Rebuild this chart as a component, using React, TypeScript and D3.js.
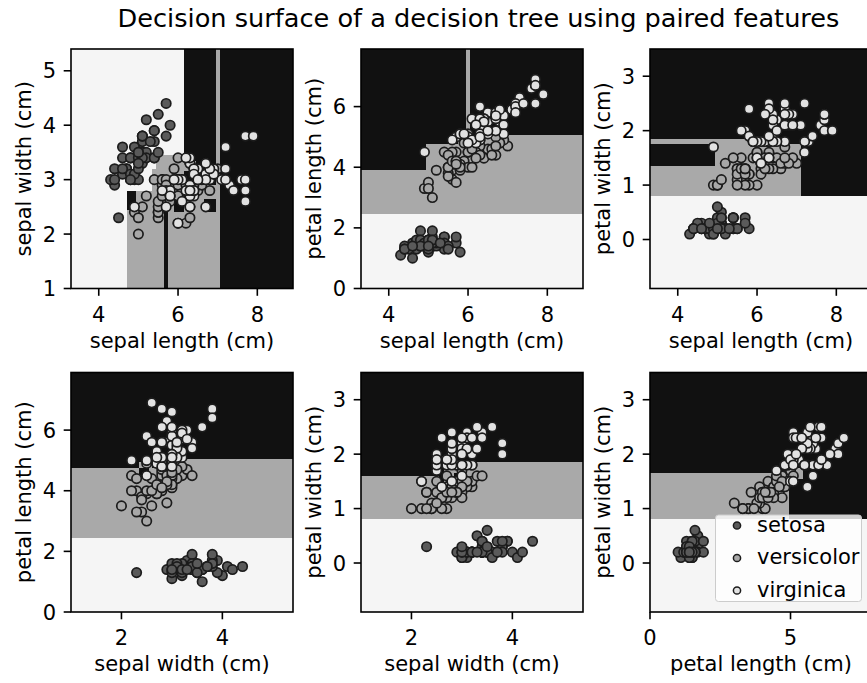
import React from "react";
import * as d3 from "d3";

// Iris dataset (150 samples)
const sepalLength = [
  5.1,4.9,4.7,4.6,5.0,5.4,4.6,5.0,4.4,4.9,5.4,4.8,4.8,4.3,5.8,5.7,5.4,5.1,5.7,5.1,5.4,5.1,4.6,5.1,4.8,
  5.0,5.0,5.2,5.2,4.7,4.8,5.4,5.2,5.5,4.9,5.0,5.5,4.9,4.4,5.1,5.0,4.5,4.4,5.0,5.1,4.8,5.1,4.6,5.3,5.0,
  7.0,6.4,6.9,5.5,6.5,5.7,6.3,4.9,6.6,5.2,5.0,5.9,6.0,6.1,5.6,6.7,5.6,5.8,6.2,5.6,5.9,6.1,6.3,6.1,6.4,
  6.6,6.8,6.7,6.0,5.7,5.5,5.5,5.8,6.0,5.4,6.0,6.7,6.3,5.6,5.5,5.5,6.1,5.8,5.0,5.6,5.7,5.7,6.2,5.1,5.7,
  6.3,5.8,7.1,6.3,6.5,7.6,4.9,7.3,6.7,7.2,6.5,6.4,6.8,5.7,5.8,6.4,6.5,7.7,7.7,6.0,6.9,5.6,7.7,6.3,6.7,
  7.2,6.2,6.1,6.4,7.2,7.4,7.9,6.4,6.3,6.1,7.7,6.3,6.4,6.0,6.9,6.7,6.9,5.8,6.8,6.7,6.7,6.3,6.5,6.2,5.9,
];
const sepalWidth = [
  3.5,3.0,3.2,3.1,3.6,3.9,3.4,3.4,2.9,3.1,3.7,3.4,3.0,3.0,4.0,4.4,3.9,3.5,3.8,3.8,3.4,3.7,3.6,3.3,3.4,
  3.0,3.4,3.5,3.4,3.2,3.1,3.4,4.1,4.2,3.1,3.2,3.5,3.6,3.0,3.4,3.5,2.3,3.2,3.5,3.8,3.0,3.8,3.2,3.7,3.3,
  3.2,3.2,3.1,2.3,2.8,2.8,3.3,2.4,2.9,2.7,2.0,3.0,2.2,2.9,2.9,3.1,3.0,2.7,2.2,2.5,3.2,2.8,2.5,2.8,2.9,
  3.0,2.8,3.0,2.9,2.6,2.4,2.4,2.7,2.7,3.0,3.4,3.1,2.3,3.0,2.5,2.6,3.0,2.6,2.3,2.7,3.0,2.9,2.9,2.5,2.8,
  3.3,2.7,3.0,2.9,3.0,3.0,2.5,2.9,2.5,3.6,3.2,2.7,3.0,2.5,2.8,3.2,3.0,3.8,2.6,2.2,3.2,2.8,2.8,2.7,3.3,
  3.2,2.8,3.0,2.8,3.0,2.8,3.8,2.8,2.8,2.6,3.0,3.4,3.1,3.0,3.1,3.1,3.1,2.7,3.2,3.3,3.0,2.5,3.0,3.4,3.0,
];
const petalLength = [
  1.4,1.4,1.3,1.5,1.4,1.7,1.4,1.5,1.4,1.5,1.5,1.6,1.4,1.1,1.2,1.5,1.3,1.4,1.7,1.5,1.7,1.5,1.0,1.7,1.9,
  1.6,1.6,1.5,1.4,1.6,1.6,1.5,1.5,1.4,1.5,1.2,1.3,1.4,1.3,1.5,1.3,1.3,1.3,1.6,1.9,1.4,1.6,1.4,1.5,1.4,
  4.7,4.5,4.9,4.0,4.6,4.5,4.7,3.3,4.6,3.9,3.5,4.2,4.0,4.7,3.6,4.4,4.5,4.1,4.5,3.9,4.8,4.0,4.9,4.7,4.3,
  4.4,4.8,5.0,4.5,3.5,3.8,3.7,3.9,5.1,4.5,4.5,4.7,4.4,4.1,4.0,4.4,4.6,4.0,3.3,4.2,4.2,4.2,4.3,3.0,4.1,
  6.0,5.1,5.9,5.6,5.8,6.6,4.5,6.3,5.8,6.1,5.1,5.3,5.5,5.0,5.1,5.3,5.5,6.7,6.9,5.0,5.7,4.9,6.7,4.9,5.7,
  6.0,4.8,4.9,5.6,5.8,6.1,6.4,5.6,5.1,5.6,6.1,5.6,5.5,4.8,5.4,5.6,5.1,5.1,5.9,5.7,5.2,5.0,5.2,5.4,5.1,
];
const petalWidth = [
  0.2,0.2,0.2,0.2,0.2,0.4,0.3,0.2,0.2,0.1,0.2,0.2,0.1,0.1,0.2,0.4,0.4,0.3,0.3,0.3,0.2,0.4,0.2,0.5,0.2,
  0.2,0.4,0.2,0.2,0.2,0.2,0.4,0.1,0.2,0.2,0.2,0.2,0.1,0.2,0.2,0.3,0.3,0.2,0.6,0.4,0.3,0.2,0.2,0.2,0.2,
  1.4,1.5,1.5,1.3,1.5,1.3,1.6,1.0,1.3,1.4,1.0,1.5,1.0,1.4,1.3,1.4,1.5,1.0,1.5,1.1,1.8,1.3,1.5,1.2,1.3,
  1.4,1.4,1.7,1.5,1.0,1.1,1.0,1.2,1.6,1.5,1.6,1.5,1.3,1.3,1.3,1.2,1.4,1.2,1.0,1.3,1.2,1.3,1.3,1.1,1.3,
  2.5,1.9,2.1,1.8,2.2,2.1,1.7,1.8,1.8,2.5,2.0,1.9,2.1,2.0,2.4,2.3,1.8,2.2,2.3,1.5,2.3,2.0,2.0,1.8,2.1,
  1.8,1.8,1.8,2.1,1.6,1.9,2.0,2.2,1.5,1.4,2.3,2.4,1.8,1.8,2.1,2.4,2.3,1.9,2.3,2.5,2.3,1.9,2.0,2.3,1.8,
];
const species = [
  0,0,0,0,0,0,0,0,0,0,0,0,0,0,0,0,0,0,0,0,0,0,0,0,0,
  0,0,0,0,0,0,0,0,0,0,0,0,0,0,0,0,0,0,0,0,0,0,0,0,0,
  1,1,1,1,1,1,1,1,1,1,1,1,1,1,1,1,1,1,1,1,1,1,1,1,1,
  1,1,1,1,1,1,1,1,1,1,1,1,1,1,1,1,1,1,1,1,1,1,1,1,1,
  2,2,2,2,2,2,2,2,2,2,2,2,2,2,2,2,2,2,2,2,2,2,2,2,2,
  2,2,2,2,2,2,2,2,2,2,2,2,2,2,2,2,2,2,2,2,2,2,2,2,2,
];

const classNames = ["setosa", "versicolor", "virginica"];
const featureNames = ["sepal length (cm)", "sepal width (cm)", "petal length (cm)", "petal width (cm)"];
const pairs = [[0, 1], [0, 2], [0, 3], [1, 2], [1, 3], [2, 3]];
const xTickValues = [[4, 6, 8], [4, 6, 8], [4, 6, 8], [2, 4], [2, 4], [0, 5]];
const yTickValues = [[1, 2, 3, 4, 5], [0, 2, 4, 6], [0, 1, 2, 3], [0, 2, 4, 6], [0, 1, 2, 3], [0, 1, 2, 3]];
// which axis wins when two candidate splits are equally good (0 = horizontal axis, 1 = vertical axis)
const tieDefault = [1, 0, 0, 0, 0, 1];
// node-specific tie choices, keyed by path from the root (L = "<= threshold", R = "> threshold")
const tieOverrides: Record<string, number>[] = [{}, {}, { RRL: 1 }, {}, {}, {}];
const title = "Decision surface of a decision tree using paired features";

// styling
const regionColors = ["#f5f5f5", "#a9a9a9", "#111111"];
const pointColors = ["#5a5a5a", "#a8a8a8", "#e2e2e2"];
const FONT = "DejaVu Sans";
const colLeft = [71, 361, 650];
const rowTop = [49, 372.5];
const PW = 222;
const PH = 239.5;

const features = [sepalLength, sepalWidth, petalLength, petalWidth];

type Rect = { x0: number; x1: number; y0: number; y1: number; cls: number };
type Split = { proxy: number; f: number; thr: number };

// CART (gini, best split) – same algorithm as the classifier that produced the surface
function fitRegions(
  X: number[],
  Y: number[],
  c: number[],
  bounds: [number, number, number, number],
  defPref: number,
  overrides: Record<string, number>
): Rect[] {
  const out: Rect[] = [];
  const bestForFeature = (idx: number[], counts: number[], f: number): Split | null => {
    const vals = f === 0 ? X : Y;
    const n = idx.length;
    const sorted = idx.slice().sort((a, bb) => vals[a] - vals[bb]);
    const left = [0, 0, 0];
    const right = counts.slice();
    let best: Split | null = null;
    for (let p = 1; p < n; p++) {
      const i = sorted[p - 1];
      left[c[i]]++;
      right[c[i]]--;
      if (vals[sorted[p]] <= vals[sorted[p - 1]] + 1e-7) continue;
      const nl = p, nr = n - p;
      const sqL = left[0] * left[0] + left[1] * left[1] + left[2] * left[2];
      const sqR = right[0] * right[0] + right[1] * right[1] + right[2] * right[2];
      const proxy = -nr * (1 - sqR / (nr * nr)) - nl * (1 - sqL / (nl * nl));
      if (best === null || proxy > best.proxy + 1e-9) {
        best = { proxy, f, thr: vals[sorted[p - 1]] / 2 + vals[sorted[p]] / 2 };
      }
    }
    return best;
  };
  const rec = (idx: number[], b: [number, number, number, number], path: string) => {
    const counts = [0, 0, 0];
    idx.forEach((i) => counts[c[i]]++);
    const nonZero = counts.filter((v) => v > 0).length;
    let best: Split | null = null;
    if (nonZero > 1 && idx.length >= 2) {
      const s0 = bestForFeature(idx, counts, 0);
      const s1 = bestForFeature(idx, counts, 1);
      if (s0 && s1) {
        if (Math.abs(s0.proxy - s1.proxy) <= 1e-9) {
          const pref = path in overrides ? overrides[path] : defPref;
          best = pref === 0 ? s0 : s1;
        } else best = s0.proxy > s1.proxy ? s0 : s1;
      } else best = s0 || s1;
    }
    if (!best) {
      let cls = 0;
      for (let k = 1; k < 3; k++) if (counts[k] > counts[cls]) cls = k;
      out.push({ x0: b[0], x1: b[1], y0: b[2], y1: b[3], cls });
      return;
    }
    const s = best;
    const vals = s.f === 0 ? X : Y;
    const L = idx.filter((i) => vals[i] <= s.thr);
    const R = idx.filter((i) => vals[i] > s.thr);
    if (s.f === 0) {
      rec(L, [b[0], s.thr, b[2], b[3]], path + "L");
      rec(R, [s.thr, b[1], b[2], b[3]], path + "R");
    } else {
      rec(L, [b[0], b[1], b[2], s.thr], path + "L");
      rec(R, [b[0], b[1], s.thr, b[3]], path + "R");
    }
  };
  rec(d3.range(X.length), bounds, "");
  return out;
}

function Panel({ k }: { k: number }) {
  const [fx, fy] = pairs[k];
  const X = features[fx];
  const Y = features[fy];
  const [xmin, xmax] = d3.extent(X) as [number, number];
  const [ymin, ymax] = d3.extent(Y) as [number, number];
  const x0 = colLeft[k % 3];
  const y0 = rowTop[Math.floor(k / 3)];
  const xs = d3.scaleLinear().domain([xmin - 1, xmax + 1]).range([x0, x0 + PW]);
  const ys = d3.scaleLinear().domain([ymin - 1, ymax + 1]).range([y0 + PH, y0]);
  const regions = fitRegions(X, Y, species, [xmin - 1, xmax + 1, ymin - 1, ymax + 1], tieDefault[k], tieOverrides[k]);
  const clipId = `clip${k}`;
  return (
    <g>
      <defs>
        <clipPath id={clipId}>
          <rect x={x0} y={y0} width={PW} height={PH} />
        </clipPath>
      </defs>
      <g clipPath={`url(#${clipId})`} shapeRendering="crispEdges">
        {regions.map((r, i) => (
          <rect
            key={i}
            x={xs(r.x0)}
            y={ys(r.y1)}
            width={Math.max(0, xs(r.x1) - xs(r.x0))}
            height={Math.max(0, ys(r.y0) - ys(r.y1))}
            fill={regionColors[r.cls]}
          />
        ))}
      </g>
      {[0, 1, 2].map((cl) => (
        <g key={cl}>
          {d3.range(X.length)
            .filter((i) => species[i] === cl)
            .map((i) => (
              <circle key={i} cx={xs(X[i])} cy={ys(Y[i])} r={4.7} fill={pointColors[cl]} stroke="#1c1c1c" strokeWidth={1.7} />
            ))}
        </g>
      ))}
      <rect x={x0} y={y0} width={PW} height={PH} fill="none" stroke="#000" strokeWidth={1.6} />
      {xTickValues[k].map((t) => (
        <g key={t}>
          <line x1={xs(t)} x2={xs(t)} y1={y0 + PH} y2={y0 + PH + 7.3} stroke="#000" strokeWidth={1.6} />
          <text x={xs(t)} y={y0 + PH + 33} textAnchor="middle" fontFamily={FONT} fontSize={21} fill="#000">
            {t}
          </text>
        </g>
      ))}
      {yTickValues[k].map((t) => (
        <g key={t}>
          <line x1={x0 - 7.3} x2={x0} y1={ys(t)} y2={ys(t)} stroke="#000" strokeWidth={1.6} />
          <text x={x0 - 15} y={ys(t) + 7.6} textAnchor="end" fontFamily={FONT} fontSize={21} fill="#000">
            {t}
          </text>
        </g>
      ))}
      <text x={x0 + PW / 2} y={y0 + PH + 59} textAnchor="middle" fontFamily={FONT} fontSize={21} fill="#000">
        {featureNames[fx]}
      </text>
      <text
        transform={`translate(${x0 - 40},${y0 + PH / 2}) rotate(-90)`}
        textAnchor="middle"
        fontFamily={FONT}
        fontSize={21}
        fill="#000"
      >
        {featureNames[fy]}
      </text>
    </g>
  );
}

function Legend() {
  const right = colLeft[2] + PW - 10.5;
  const bottom = rowTop[1] + PH - 10.5;
  const left = 715.5;
  const top = 515;
  const baselines = [531.5, 564, 596.5];
  return (
    <g>
      <rect x={left} y={top} width={right - left} height={bottom - top} rx={3} fill="#ffffff" fillOpacity={0.8} stroke="#cccccc" strokeWidth={1} />
      {classNames.map((name, i) => (
        <g key={name}>
          <circle cx={737} cy={baselines[i] - 6} r={3.6} fill={pointColors[i]} stroke="#1c1c1c" strokeWidth={1.5} />
          <text x={757} y={baselines[i]} fontFamily={FONT} fontSize={21} fill="#000">
            {name}
          </text>
        </g>
      ))}
    </g>
  );
}

export default function App() {
  return (
    <svg width={867} height={683} style={{ position: "absolute", left: 0, top: 0, background: "#fff" }}>
      <rect x={0} y={0} width={867} height={683} fill="#fff" />
      <text x={478.5} y={27} textAnchor="middle" fontFamily={FONT} fontSize={25.6} fill="#000">
        {title}
      </text>
      {pairs.map((_, k) => (
        <Panel key={k} k={k} />
      ))}
      <Legend />
    </svg>
  );
}
